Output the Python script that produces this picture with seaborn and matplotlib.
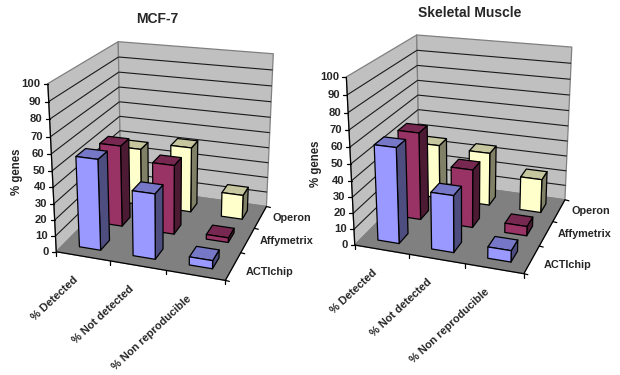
"""
Two Excel style 3D column charts, % genes per platform
"""
import matplotlib
matplotlib.use('Agg')
import matplotlib.pyplot as plt
from matplotlib.patches import Polygon
import numpy as np
import seaborn as sns

categories = ['% Detected', '% Not detected', '% Non reproducible']
platforms = ['ACTIchip', 'Affymetrix', 'Operon']
z_ticks = [0, 10, 20, 30, 40, 50, 60, 70, 80, 90, 100]

mcf7_acti = [56, 40, 5]
mcf7_affy = [52, 44, 3]
mcf7_operon = [38, 43, 16]

muscle_acti = [59, 35, 7]
muscle_affy = [56, 37, 6]
muscle_operon = [36, 35, 22]

sns.set_style('white')
plt.rcParams['font.family'] = ['Liberation Sans', 'DejaVu Sans']
plt.rcParams['font.weight'] = 'bold'

front_colors = sns.color_palette(['#9999FF', '#993366', '#FFFFCC'])
BAR_SIZE = 0.4

# chart box corners (cat, platform, value) and where they land in the picture
box_corners = np.array([[0, 0, 0], [3, 0, 0], [3, 3, 0], [0, 3, 0],
                        [0, 0, 100], [0, 3, 100], [3, 3, 100]], dtype=float)
box_pixels = np.array([[56.7, 251.7], [225, 280.7], [266.7, 206], [120.7, 186.7],
                       [47.7, 83.3], [118.3, 41.7], [273.3, 54]])
platform_label_dy = [5.5, 1, 1]


def fit_projection(corners, pixels):
    """Solve the 3x4 camera matrix from corner matches"""
    rows, rhs = [], []
    for (x, y, z), (u, v) in zip(corners, pixels):
        rows.append([x, y, z, 1, 0, 0, 0, 0, -u * x, -u * y, -u * z])
        rows.append([0, 0, 0, 0, x, y, z, 1, -v * x, -v * y, -v * z])
        rhs += [u, v]
    sol = np.linalg.lstsq(np.array(rows), np.array(rhs), rcond=None)[0]
    return np.append(sol, 1).reshape(3, 4)


camera = fit_projection(box_corners, box_pixels)


def project(x, y, z, shift):
    p = camera @ np.array([x, y, z, 1.0])
    return p[0] / p[2] + shift[0], p[1] / p[2] + shift[1]


def shade(color, factor):
    return tuple(c * factor for c in color)


def draw_face(ax, pts, color, shift, edge='black', lw=0.9, zorder=2):
    ax.add_patch(Polygon([project(*p, shift) for p in pts], closed=True, facecolor=color,
                         edgecolor=edge, linewidth=lw, joinstyle='round', zorder=zorder))


def draw_bar(ax, cx, cy, height, color, shift):
    x0, x1 = cx - BAR_SIZE / 2, cx + BAR_SIZE / 2
    y0, y1 = cy - BAR_SIZE / 2, cy + BAR_SIZE / 2
    draw_face(ax, [(x1, y0, 0), (x1, y1, 0), (x1, y1, height), (x1, y0, height)], shade(color, 0.5), shift)
    draw_face(ax, [(x0, y0, height), (x1, y0, height), (x1, y1, height), (x0, y1, height)], shade(color, 0.78), shift)
    draw_face(ax, [(x0, y0, 0), (x1, y0, 0), (x1, y0, height), (x0, y0, height)], color, shift)


def draw_line(ax, a, b, shift, color='black', lw=0.9):
    (x0, y0), (x1, y1) = project(*a, shift), project(*b, shift)
    ax.plot([x0, x1], [y0, y1], color=color, lw=lw, solid_capstyle='butt', zorder=1)


def draw_panel(ax, title, series, shift, title_pos, ylabel_pos):
    # walls and floor
    draw_face(ax, [(0, 0, 0), (0, 3, 0), (0, 3, 100), (0, 0, 100)], '#C0C0C0', shift, edge='#808080', zorder=0)
    draw_face(ax, [(0, 3, 0), (3, 3, 0), (3, 3, 100), (0, 3, 100)], '#C0C0C0', shift, edge='#808080', zorder=0)
    for z in z_ticks[1:-1]:
        draw_line(ax, (0, 0, z), (0, 3, z), shift, color='#1a1a1a', lw=0.8)
        draw_line(ax, (0, 3, z), (3, 3, z), shift, color='#1a1a1a', lw=0.8)
    draw_face(ax, [(0, 0, 0), (3, 0, 0), (3, 3, 0), (0, 3, 0)], '#808080', shift, edge='#808080', zorder=1)

    # axis lines and ticks
    draw_line(ax, (0, 0, 0), (0, 0, 100), shift)
    draw_line(ax, (0, 0, 0), (3, 0, 0), shift)
    draw_line(ax, (3, 0, 0), (3, 3, 0), shift)
    for z in z_ticks:
        u, v = project(0, 0, z, shift)
        ax.plot([u - 4, u], [v, v], color='black', lw=0.9)
        ax.text(u - 7, v, str(z), ha='right', va='center', fontsize=8.1)
    for i in range(4):
        u, v = project(i, 0, 0, shift)
        ax.plot([u, u], [v, v + 4], color='black', lw=0.9)
        u, v = project(3, i, 0, shift)
        ax.plot([u, u + 4], [v, v + 1], color='black', lw=0.9)
    for i, name in enumerate(categories):
        u, v = project(i + 0.5, 0, 0, shift)
        ax.text(u - 6, v + 22, name, rotation=43, rotation_mode='anchor', ha='right', va='center', fontsize=7.9)
    for i, name in enumerate(platforms):
        u, v = project(3, i + 0.5, 0, shift)
        ax.text(u + 12, v + platform_label_dy[i], name, ha='left', va='center', fontsize=7.8)

    # back row first so the front bars paint over it
    for j in [2, 1, 0]:
        for i in range(3):
            draw_bar(ax, i + 0.5, j + 0.5, series[j][i], front_colors[j], shift)

    ax.text(*title_pos, title, ha='center', va='center', fontsize=10)
    ax.text(*ylabel_pos, '% genes', rotation=90, ha='center', va='center', fontsize=8.3)


fig = plt.figure(figsize=(6.2, 3.75), dpi=100)
ax = fig.add_axes([0, 0, 1, 1])
ax.set_xlim(0, 620)
ax.set_ylim(375, 0)
ax.axis('off')

draw_panel(ax, 'MCF-7', [mcf7_acti, mcf7_affy, mcf7_operon], (0, 0), (157.7, 19.3), (16.7, 172))
draw_panel(ax, 'Skeletal Muscle', [muscle_acti, muscle_affy, muscle_operon], (298.5, -6.7), (470, 13.3), (316, 164))

fig.savefig('out.png', dpi=100)
